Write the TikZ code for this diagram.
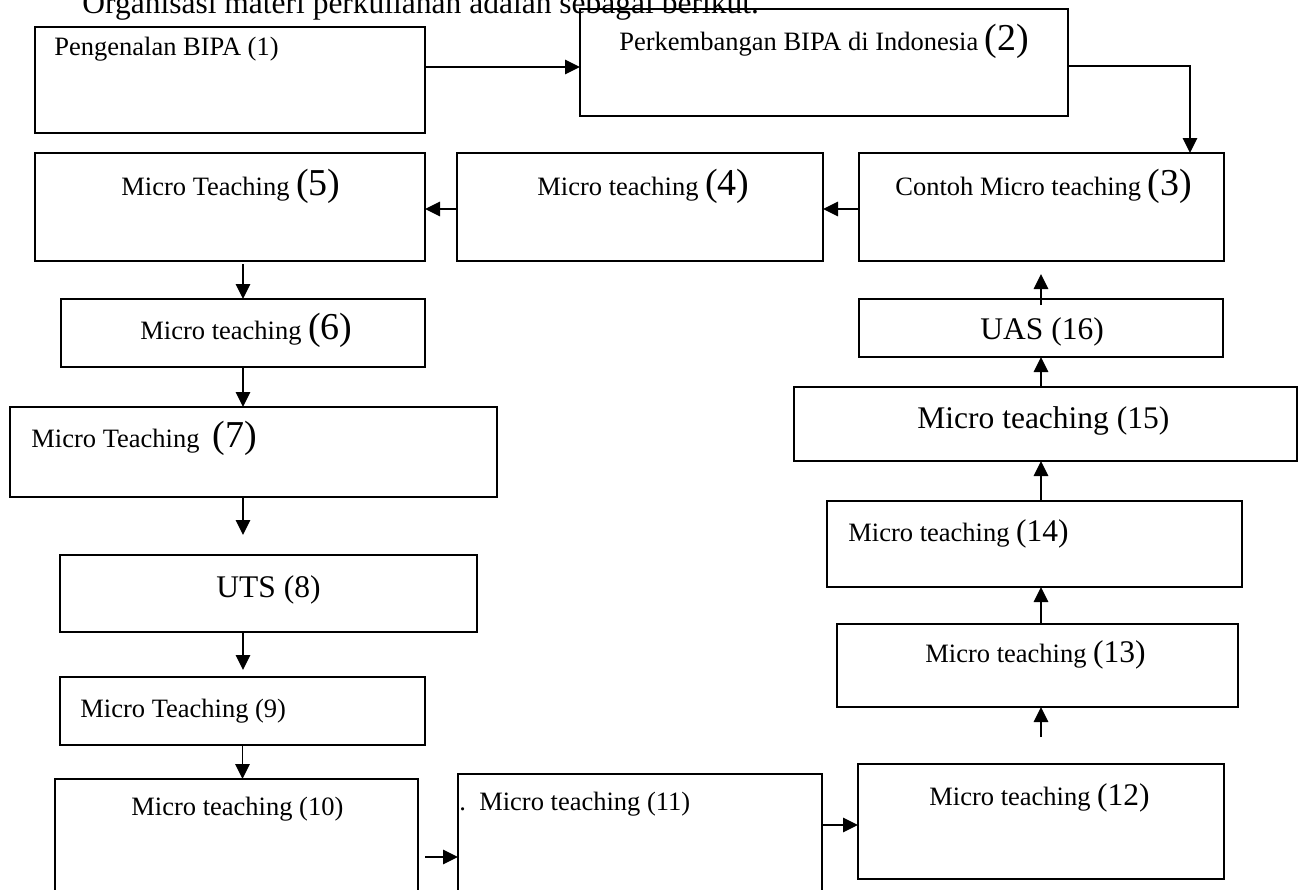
\documentclass[tikz,border=0pt]{standalone}
\usepackage{fontspec}
\setmainfont{Liberation Serif}
\usetikzlibrary{arrows.meta}
\newcommand\txs{\fontsize{13.25}{15}\selectfont}
\newcommand\txm{\fontsize{15.75}{18}\selectfont}
\newcommand\txl{\fontsize{19}{22}\selectfont}

\begin{document}
\begin{tikzpicture}[x=0.5pt, y=-0.5pt,
    box/.style args={#1 by #2}{draw, line width=1pt, inner sep=0pt, outer sep=0pt,
      minimum width=#1*0.5pt, minimum height=#2*0.5pt},
    lbl/.style={anchor=base west, inner sep=0pt},
    arr/.style={line width=0.85pt, -{Triangle[length=7.5pt,width=7.25pt]}}]
  \clip (0,0) rectangle (1298,890);
  \fill[white] (0,0) rectangle (1298,890);
  \node[lbl] (t0) at (82,13) {\txm Organisasi materi perkuliahan adalah sebagai berikut.};
  \node[box=390 by 106] (b1) at (230,80) {};
  \node[box=488 by 107] (b2) at (824,62.5) {};
  \node[box=365 by 108] (b3) at (1041.5,207) {};
  \node[box=366 by 108] (b4) at (640,207) {};
  \node[box=390 by 108] (b5) at (230,207) {};
  \node[box=364 by 68] (b6) at (243,333) {};
  \node[box=487 by 90] (b7) at (253.5,452) {};
  \node[box=417 by 77] (b8) at (268.5,593.5) {};
  \node[box=365 by 68] (b9) at (242.5,711) {};
  \node[box=363 by 126] (b10) at (236.5,842) {};
  \node[box=364 by 131] (b11) at (640,839.5) {};
  \node[box=366 by 115] (b12) at (1041,821.5) {};
  \node[box=401 by 83] (b13) at (1037.5,665.5) {};
  \node[box=415 by 86] (b14) at (1034.5,544) {};
  \node[box=503 by 74] (b15) at (1045,424) {};
  \node[box=364 by 58] (b16) at (1041,328) {};
  \node[lbl] (t1) at (54,55) {\txs Pengenalan BIPA (1)};
  \node[lbl] (t2) at (619,50) {\txs Perkembangan BIPA di Indonesia \txl(2)};
  \node[lbl] (t3) at (895,195) {\txs Contoh Micro teaching \txl(3)};
  \node[lbl] (t4) at (537,195) {\txs Micro teaching \txl(4)};
  \node[lbl] (t5) at (121,195) {\txs Micro Teaching \txl(5)};
  \node[lbl] (t6) at (140,339) {\txs Micro teaching \txl(6)};
  \node[lbl] (t7) at (31,447) {\txs Micro Teaching\ \ \txl(7)};
  \node[lbl] (t8) at (216,597) {\txm UTS (8)};
  \node[lbl] (t9) at (80,717) {\txs Micro Teaching (9)};
  \node[lbl] (t10) at (131,815) {\txs Micro teaching (10)};
  \node[lbl] (t11) at (459,810) {\txs .\ \ Micro teaching (11)};
  \node[lbl] (t12) at (929,805) {\txs Micro teaching \txm(12)};
  \node[lbl] (t13) at (925,662) {\txs Micro teaching \txm(13)};
  \node[lbl] (t14) at (848,541) {\txs Micro teaching \txm(14)};
  \node[lbl] (t15) at (917,428) {\txm Micro teaching (15)};
  \node[lbl] (t16) at (980,339) {\txm UAS (16)};
  \draw[arr] ([yshift=6.5pt]b1.east) -- ([yshift=-2.25pt]b2.west);
  \draw[arr] ([yshift=-1.75pt]b2.east) -| ([xshift=74.25pt]b3.north);
  \draw[arr] ([yshift=-1pt]b3.west) -- ([yshift=-1pt]b4.east);
  \draw[arr] ([yshift=-1pt]b4.west) -- ([yshift=-1pt]b5.east);
  \draw[arr, shorten <=1.5pt] ([xshift=6.5pt]b5.south) -- (b6.north);
  \draw[arr] (b6.south) -- (b6.south |- b7.north);
  \draw[arr, shorten >=10pt] (b6.south |- b7.south) -- (b6.south |- b8.north);
  \draw[arr, shorten >=3.5pt] (b6.south |- b8.south) -- (b6.south |- b9.north);
  \draw[arr] (b9.south) -- (b9.south |- b10.north);
  \draw[arr, shorten <=3.5pt] ([yshift=-7.5pt]b10.east) -- ([yshift=-7.5pt]b10.east -| b11.west);
  \draw[arr] ([yshift=7.25pt]b11.east) -- ([yshift=7.25pt]b11.east -| b12.west);
  \coordinate (c12) at ([yshift=13.5pt]b12.north);
  \draw[arr] (c12) -- (c12 |- b13.south);
  \draw[arr] (c12 |- b13.north) -- (c12 |- b14.south);
  \draw[arr] (c12 |- b14.north) -- (c12 |- b15.south);
  \draw[arr] (c12 |- b15.north) -- (c12 |- b16.south);
  \draw[arr, shorten >=3.5pt] ([yshift=-3pt]b16.north) -- ([yshift=-3pt]b16.north |- b3.south);
\end{tikzpicture}
\end{document}
